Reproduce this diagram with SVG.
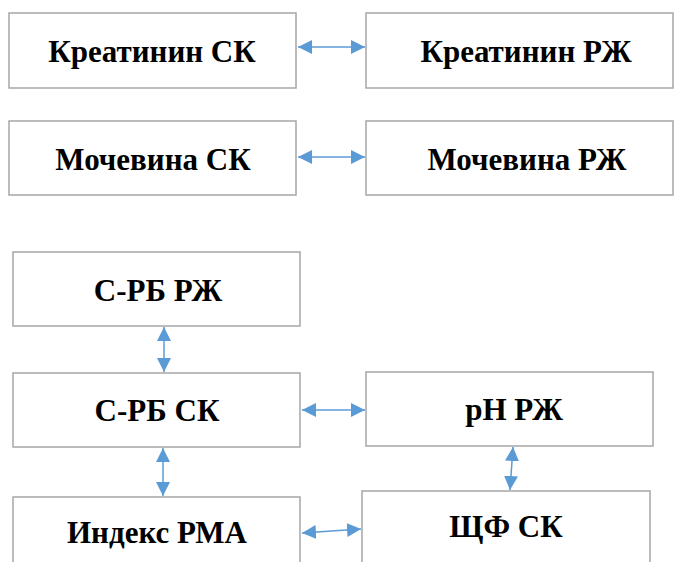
<svg xmlns="http://www.w3.org/2000/svg" width="676" height="562" viewBox="0 0 676 562">
<style>
.box{fill:#fff;stroke:#a6a6a6;stroke-width:1.5}
.lbl{font-family:"Liberation Serif","Times New Roman",serif;font-weight:bold;font-size:31px;fill:#000;text-anchor:middle}
.con{stroke:#5b9bd5;stroke-width:1.5;fill:none;marker-start:url(#ah);marker-end:url(#ah)}
</style>
<defs>
<marker id="ah" viewBox="0 0 10 10" refX="10" refY="5" markerWidth="14" markerHeight="14" markerUnits="userSpaceOnUse" orient="auto-start-reverse">
<path d="M0,0 L10,5 L0,10 Z" fill="#5b9bd5"/>
</marker>
</defs>
<rect width="676" height="562" fill="#fff"/>
<g id="n1"><rect class="box" x="9" y="13" width="287" height="75"/><text class="lbl" x="152" y="62">Креатинин СК</text></g>
<g id="n2"><rect class="box" x="366" y="13" width="307" height="75"/><text class="lbl" x="526" y="62">Креатинин РЖ</text></g>
<g id="n3"><rect class="box" x="9" y="121" width="287" height="74"/><text class="lbl" x="153" y="170">Мочевина СК</text></g>
<g id="n4"><rect class="box" x="366" y="121" width="307" height="74"/><text class="lbl" x="527" y="170">Мочевина РЖ</text></g>
<g id="n5"><rect class="box" x="13" y="252" width="287" height="74"/><text class="lbl" x="158" y="301">С-РБ РЖ</text></g>
<g id="n6"><rect class="box" x="13" y="373" width="287" height="74"/><text class="lbl" x="157" y="421">С-РБ СК</text></g>
<g id="n7"><rect class="box" x="366" y="372" width="287" height="74"/><text class="lbl" x="514" y="420">pH РЖ</text></g>
<g id="n8"><rect class="box" x="13" y="497" width="287" height="70"/><text class="lbl" x="157" y="543">Индекс РМА</text></g>
<g id="n9"><rect class="box" x="362" y="491" width="288" height="76"/><text class="lbl" x="506" y="537">ЩФ СК</text></g>
<g id="connectors">
<line class="con" x1="298" y1="47" x2="365" y2="47"/>
<line class="con" x1="298" y1="157" x2="365" y2="157"/>
<line class="con" x1="164" y1="327" x2="164" y2="372"/>
<line class="con" x1="163" y1="448" x2="163" y2="496"/>
<line class="con" x1="302" y1="410" x2="365" y2="410"/>
<line class="con" x1="513" y1="447" x2="510" y2="490"/>
<line class="con" x1="302" y1="533" x2="361" y2="529"/>
</g>
</svg>
